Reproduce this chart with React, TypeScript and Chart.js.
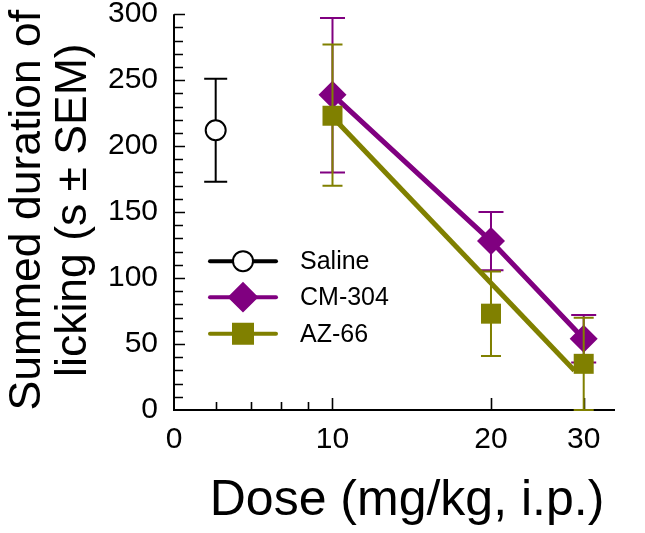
import React, { useEffect, useRef } from "react";
import { Chart, registerables } from "chart.js";

Chart.register(...registerables);

// ---- data ----
const salineDose = [6];
const salineMean = [212];
const salineUpper = [251];
const salineLower = [173];

const cmDose = [10, 20, 30];
const cmMean = [239, 128, 54];
const cmUpper = [297, 150, 72];
const cmLower = [180, 106, 36];

const azDose = [10, 20, 30];
const azMean = [223, 73, 35];
const azUpper = [277, 105, 70];
const azLower = [170, 41, 0];

const azFitDose = [10, 28.8];
const azFitValue = [222, 30];

const xTickValues = [5, 10, 20, 30];
const xTickLabels = ["0", "10", "20", "30"];
const xMinorTicks = [6, 7, 8, 9];
const yMin = 0;
const yMax = 300;
const yLabelStep = 50;
const yMinorStep = 10;

const seriesLabels = ["Saline", "CM-304", "AZ-66"];
const xTitle = "Dose (mg/kg, i.p.)";
const yTitle = ["Summed duration of", "licking (s ± SEM)"];

const PURPLE = "#800080";
const OLIVE = "#808000";
const FONT = "'Liberation Sans', Arial, sans-serif";

const errorBarPlugin = {
  id: "errorBars",
  beforeDatasetDraw(chart: any, args: any) {
    const ds: any = chart.data.datasets[args.index];
    if (!ds.errUpper) return;
    const { ctx } = chart;
    const xs = chart.scales.x;
    const ys = chart.scales.y;
    ctx.save();
    ctx.strokeStyle = ds.errColor;
    ctx.lineWidth = ds.errWidth;
    ds.data.forEach((p: any, i: number) => {
      const x = xs.getPixelForValue(p.x);
      const yt = ys.getPixelForValue(ds.errUpper[i]);
      const yb = ys.getPixelForValue(ds.errLower[i]);
      ctx.beginPath();
      ctx.moveTo(x, yt);
      ctx.lineTo(x, yb);
      ctx.moveTo(x - ds.capHalf, yt);
      ctx.lineTo(x + ds.capHalf, yt);
      ctx.moveTo(x - ds.capHalf, yb);
      ctx.lineTo(x + ds.capHalf, yb);
      ctx.stroke();
    });
    ctx.restore();
  },
};

const axesPlugin = {
  id: "axesDraw",
  beforeDatasetsDraw(chart: any) {
    const { ctx, chartArea } = chart;
    const xs = chart.scales.x;
    const ys = chart.scales.y;
    const { left, right, top, bottom } = chartArea;
    ctx.save();
    ctx.strokeStyle = "#000";
    ctx.lineWidth = 2;
    ctx.beginPath();
    ctx.moveTo(left, top);
    ctx.lineTo(left, bottom);
    ctx.lineTo(right, bottom);
    ctx.stroke();
    ctx.lineWidth = 1.6;
    ctx.beginPath();
    for (let v = yMin + yMinorStep; v <= yMax; v += yMinorStep) {
      const y = Math.round(ys.getPixelForValue(v)) + 0.5;
      const len = v % yLabelStep === 0 ? 11 : 9;
      ctx.moveTo(left, y);
      ctx.lineTo(left + len, y);
    }
    xMinorTicks.forEach((v) => {
      const x = Math.round(xs.getPixelForValue(v)) + 0.5;
      ctx.moveTo(x, bottom);
      ctx.lineTo(x, bottom - 8);
    });
    xTickValues.forEach((v) => {
      if (v === xs.min) return;
      const x = Math.round(xs.getPixelForValue(v)) + 0.5;
      ctx.moveTo(x, bottom);
      ctx.lineTo(x, bottom - 12);
    });
    ctx.stroke();
    ctx.restore();
  },
  afterDraw(chart: any) {
    const { ctx, chartArea } = chart;
    ctx.save();
    ctx.fillStyle = "#000";
    ctx.textAlign = "center";
    ctx.textBaseline = "middle";
    // x title
    ctx.font = `50px ${FONT}`;
    ctx.fillText(xTitle, chartArea.left + 233, chartArea.bottom + 91);
    // y title (rotated, two lines)
    ctx.font = `44.5px ${FONT}`;
    const cy = chartArea.top + 196;
    yTitle.forEach((line, i) => {
      ctx.save();
      ctx.translate(28 + i * 46, cy);
      ctx.rotate(-Math.PI / 2);
      ctx.fillText(line, 0, 0);
      ctx.restore();
    });
    ctx.restore();
  },
};

function drawMarker(ctx: any, style: string, x: number, y: number, fill: string, stroke: string) {
  ctx.beginPath();
  if (style === "circle") {
    ctx.arc(x, y, 10, 0, Math.PI * 2);
  } else if (style === "rectRot") {
    ctx.moveTo(x - 14, y);
    ctx.lineTo(x, y - 14);
    ctx.lineTo(x + 14, y);
    ctx.lineTo(x, y + 14);
    ctx.closePath();
  } else {
    ctx.rect(x - 10, y - 10, 20, 20);
  }
  ctx.fillStyle = fill;
  ctx.fill();
  ctx.lineWidth = 2;
  ctx.strokeStyle = stroke;
  ctx.stroke();
}

const legendPlugin = {
  id: "insideLegend",
  afterDraw(chart: any) {
    const { ctx, chartArea } = chart;
    const entries = [
      { style: "circle", color: "#000", fill: "#fff", dy: 0 },
      { style: "rectRot", color: PURPLE, fill: PURPLE, dy: 36 },
      { style: "rect", color: OLIVE, fill: OLIVE, dy: 72.5 },
    ];
    const x0 = chartArea.left + 36;
    const x1 = chartArea.left + 102;
    const y0 = chartArea.top + 247;
    ctx.save();
    entries.forEach((e, i) => {
      const y = y0 + e.dy;
      ctx.strokeStyle = e.color;
      ctx.lineWidth = 4;
      ctx.lineCap = "round";
      ctx.beginPath();
      ctx.moveTo(x0, y);
      ctx.lineTo(x1, y);
      ctx.stroke();
      ctx.lineCap = "butt";
      drawMarker(ctx, e.style, (x0 + x1) / 2, y, e.fill, e.color);
      ctx.fillStyle = "#000";
      ctx.font = `25px ${FONT}`;
      ctx.textBaseline = "middle";
      ctx.textAlign = "left";
      ctx.fillText(seriesLabels[i], chartArea.left + 126, y + 1);
    });
    ctx.restore();
  },
};

export default function App() {
  const canvasRef = useRef<HTMLCanvasElement | null>(null);

  useEffect(() => {
    document.body.style.margin = "0";
    const canvas = canvasRef.current;
    if (!canvas) return;
    const chart = new Chart(canvas, {
      type: "scatter",
      data: {
        datasets: [
          {
            label: seriesLabels[0],
            data: salineDose.map((d, i) => ({ x: d, y: salineMean[i] })),
            pointStyle: "circle",
            pointRadius: 10,
            pointBackgroundColor: "#fff",
            pointBorderColor: "#000",
            pointBorderWidth: 2,
            showLine: false,
            order: 1,
            clip: false,
            errUpper: salineUpper,
            errLower: salineLower,
            errColor: "#000",
            errWidth: 2,
            capHalf: 11.5,
          } as any,
          {
            label: seriesLabels[2],
            data: azDose.map((d, i) => ({ x: d, y: azMean[i] })),
            pointStyle: "rect",
            pointRadius: 14.14,
            pointBackgroundColor: OLIVE,
            pointBorderColor: OLIVE,
            pointBorderWidth: 0,
            showLine: false,
            order: 2,
            clip: false,
            errUpper: azUpper,
            errLower: azLower,
            errColor: OLIVE,
            errWidth: 2,
            capHalf: 10,
          } as any,
          {
            label: "AZ-66 fit",
            data: azFitDose.map((d, i) => ({ x: d, y: azFitValue[i] })),
            showLine: true,
            borderColor: OLIVE,
            borderWidth: 5,
            pointRadius: 0,
            order: 3,
            clip: false,
          } as any,
          {
            label: seriesLabels[1],
            data: cmDose.map((d, i) => ({ x: d, y: cmMean[i] })),
            showLine: true,
            borderColor: PURPLE,
            borderWidth: 5,
            pointStyle: "rectRot",
            pointRadius: 14,
            pointBackgroundColor: PURPLE,
            pointBorderColor: PURPLE,
            pointBorderWidth: 0,
            order: 4,
            clip: false,
            errUpper: cmUpper,
            errLower: cmLower,
            errColor: PURPLE,
            errWidth: 2,
            capHalf: 12.5,
          } as any,
        ],
      },
      options: {
        animation: false,
        responsive: false,
        maintainAspectRatio: false,
        devicePixelRatio: 1,
        layout: { padding: { top: 13, right: 30, left: 0, bottom: 0 } },
        plugins: {
          legend: { display: false },
          tooltip: { enabled: false },
        },
        scales: {
          x: {
            type: "logarithmic",
            min: 5,
            max: 34.4,
            grid: { display: false, drawTicks: false },
            border: { display: false },
            afterBuildTicks: (s: any) => {
              s.ticks = xTickValues.map((v) => ({ value: v }));
            },
            afterFit: (s: any) => {
              s.height = 123;
              s.paddingLeft = 0;
              s.paddingRight = 0;
            },
            ticks: {
              autoSkip: false,
              maxRotation: 0,
              padding: 12,
              color: "#000",
              font: { size: 30, family: FONT },
              callback: (v: any) => {
                const i = xTickValues.indexOf(Number(v));
                return i >= 0 ? xTickLabels[i] : "";
              },
            },
            title: { display: false },
          },
          y: {
            type: "linear",
            min: yMin,
            max: yMax,
            grid: { display: false, drawTicks: false },
            border: { display: false },
            afterFit: (s: any) => {
              s.width = 174;
              s.paddingTop = 0;
              s.paddingBottom = 0;
            },
            ticks: {
              stepSize: yLabelStep,
              padding: 16,
              color: "#000",
              font: { size: 30, family: FONT },
            },
            title: { display: false },
          },
        },
      } as any,
      plugins: [errorBarPlugin, axesPlugin, legendPlugin],
    });
    return () => chart.destroy();
  }, []);

  return (
    <div style={{ width: 645, height: 533 }}>
      <canvas ref={canvasRef} width={645} height={533} style={{ display: "block" }} />
    </div>
  );
}
